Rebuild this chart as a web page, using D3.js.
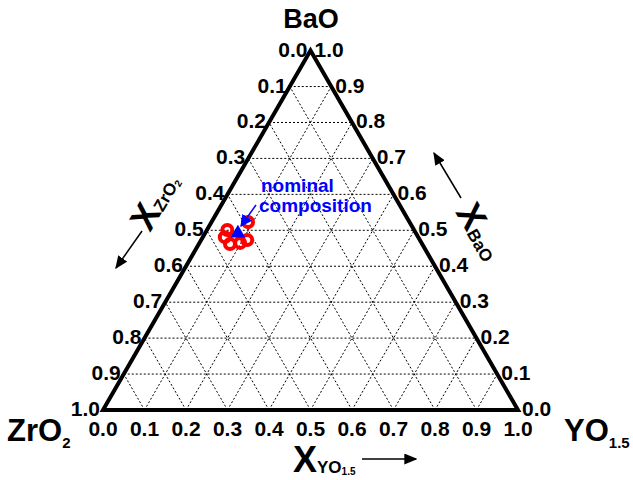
<!DOCTYPE html>
<html>
<head>
<meta charset="utf-8">
<script src="https://cdn.jsdelivr.net/npm/d3@7"></script>
<style>
  body { margin: 0; background: #fff; }
  svg { font-family: "Liberation Sans", Arial, sans-serif; }
</style>
</head>
<body>
<div id="chart"></div>
<script>
// tick values / labels
const tickValues = [0, 0.1, 0.2, 0.3, 0.4, 0.5, 0.6, 0.7, 0.8, 0.9, 1.0];
const tickLabels = ["0.0", "0.1", "0.2", "0.3", "0.4", "0.5", "0.6", "0.7", "0.8", "0.9", "1.0"];

// measured compositions (mole fractions)
const measuredBaO = [0.501, 0.481, 0.462, 0.465, 0.473, 0.523];
const measuredYO = [0.049, 0.053, 0.075, 0.098, 0.111, 0.088];

// nominal composition
const nominalBaO = [0.5];
const nominalYO = [0.075];

const width = 633, height = 480;

const svg = d3.select('#chart').append('svg')
    .attr('width', width)
    .attr('height', height);

const x = d3.scaleLinear().domain([0, 1]).range([103, 518]);
const y = d3.scaleLinear().domain([0, 1]).range([410, 50.6]);

// ternary -> pixel: b = BaO, c = YO1.5
function px(b, c) { return [x(c + b / 2), y(b)]; }

const line = d3.line();

// grid
const grid = svg.append('g')
    .attr('fill', 'none')
    .attr('stroke', '#000')
    .attr('stroke-width', 1)
    .attr('stroke-dasharray', '2,2');

tickValues.slice(1, 10).forEach(v => {
    grid.append('path').attr('d', line([px(v, 0), px(v, 1 - v)]));
    grid.append('path').attr('d', line([px(0, v), px(1 - v, v)]));
    grid.append('path').attr('d', line([px(0, 1 - v), px(1 - v, 0)]));
});

// outline
svg.append('path')
    .attr('d', line([px(0, 0), px(1, 0), px(0, 1)]) + 'Z')
    .attr('fill', 'none')
    .attr('stroke', '#000')
    .attr('stroke-width', 4)
    .attr('stroke-linejoin', 'miter');

const tickFont = 21;

// left labels (ZrO2)
svg.append('g').selectAll('text')
    .data(tickValues)
    .join('text')
    .attr('x', d => px(1 - d, 0)[0] - 3)
    .attr('y', d => px(1 - d, 0)[1] + 6)
    .attr('text-anchor', 'end')
    .attr('font-size', tickFont)
    .attr('font-weight', 'bold')
    .text((d, i) => tickLabels[i]);

// right labels (BaO)
svg.append('g').selectAll('text')
    .data(tickValues)
    .join('text')
    .attr('x', d => px(d, 1 - d)[0] + 4)
    .attr('y', d => px(d, 1 - d)[1] + 6)
    .attr('text-anchor', 'start')
    .attr('font-size', tickFont)
    .attr('font-weight', 'bold')
    .text((d, i) => tickLabels[i]);

// bottom labels (YO1.5)
svg.append('g').selectAll('text')
    .data(tickValues)
    .join('text')
    .attr('x', d => px(0, d)[0])
    .attr('y', 436)
    .attr('text-anchor', 'middle')
    .attr('font-size', tickFont)
    .attr('font-weight', 'bold')
    .text((d, i) => tickLabels[i]);

// corner labels
svg.append('text')
    .attr('x', 311).attr('y', 28)
    .attr('text-anchor', 'middle')
    .attr('font-size', 27).attr('font-weight', 'bold')
    .text('BaO');

const zr = svg.append('text').attr('x', 7).attr('y', 441)
    .attr('font-size', 31).attr('font-weight', 'bold');
zr.append('tspan').text('ZrO');
zr.append('tspan').attr('font-size', 15).attr('dy', 7).text('2');

const yo = svg.append('text').attr('x', 564).attr('y', 441)
    .attr('font-size', 31).attr('font-weight', 'bold');
yo.append('tspan').text('YO');
yo.append('tspan').attr('font-size', 15).attr('dy', 7).text('1.5');

// arrow marker
svg.append('defs').append('marker')
    .attr('id', 'arr')
    .attr('viewBox', '0 0 10 10')
    .attr('refX', 9).attr('refY', 5)
    .attr('markerWidth', 13).attr('markerHeight', 11)
    .attr('markerUnits', 'userSpaceOnUse')
    .attr('orient', 'auto')
    .attr('preserveAspectRatio', 'none')
    .append('path').attr('d', 'M0,0L10,5L0,10Z').attr('fill', '#000');

function axisTitle(tx, ty, angle, sub, subSub) {
    const t = svg.append('text')
        .attr('transform', `translate(${tx},${ty}) rotate(${angle})`)
        .attr('font-weight', 'bold');
    t.append('tspan').attr('font-size', 36).text('X');
    t.append('tspan').attr('font-size', 17).attr('dy', 1).text(sub);
    if (subSub) t.append('tspan').attr('font-size', 10).attr('dy', 2).text(subSub);
    return t;
}

// bottom axis title
axisTitle(293, 472, 0, 'YO', '1.5');
svg.append('path').attr('d', line([[362, 459], [416, 459]]))
    .attr('stroke', '#000').attr('stroke-width', 1.5).attr('marker-end', 'url(#arr)');

// left axis title
axisTitle(150, 233, -60, 'ZrO', '2');
svg.append('path').attr('d', line([[142, 231], [116, 268]]))
    .attr('stroke', '#000').attr('stroke-width', 1.5).attr('marker-end', 'url(#arr)');

// right axis title
axisTitle(455, 212, 60, 'BaO', null);
svg.append('path').attr('d', line([[461, 198], [434, 153]]))
    .attr('stroke', '#000').attr('stroke-width', 1.5).attr('marker-end', 'url(#arr)');

// measured points
svg.append('g').selectAll('circle')
    .data(measuredBaO)
    .join('circle')
    .attr('cx', (d, i) => px(d, measuredYO[i])[0])
    .attr('cy', (d, i) => px(d, measuredYO[i])[1])
    .attr('r', 5)
    .attr('fill', 'none')
    .attr('stroke', '#f00')
    .attr('stroke-width', 4);

// nominal point
svg.append('g').selectAll('path')
    .data(nominalBaO)
    .join('path')
    .attr('d', d3.symbol(d3.symbolTriangle, 95))
    .attr('transform', (d, i) => `translate(${px(d, nominalYO[i])[0]},${px(d, nominalYO[i])[1] + 3})`)
    .attr('fill', '#00f');

// annotation
svg.append('defs').append('marker')
    .attr('id', 'arrBlue')
    .attr('viewBox', '0 0 10 10')
    .attr('refX', 9).attr('refY', 5)
    .attr('markerWidth', 12).attr('markerHeight', 12)
    .attr('markerUnits', 'userSpaceOnUse')
    .attr('orient', 'auto')
    .append('path').attr('d', 'M0,0L10,5L0,10Z').attr('fill', '#00f');

svg.append('path').attr('d', line([[256, 205], [241, 226]]))
    .attr('stroke', '#00f').attr('stroke-width', 1.5).attr('marker-end', 'url(#arrBlue)');

const note = svg.append('text')
    .attr('fill', '#00f').attr('font-weight', 'bold').attr('font-size', 19);
note.append('tspan').attr('x', 261).attr('y', 192).text('nominal');
note.append('tspan').attr('x', 259).attr('y', 212).text('composition');
</script>
</body>
</html>
